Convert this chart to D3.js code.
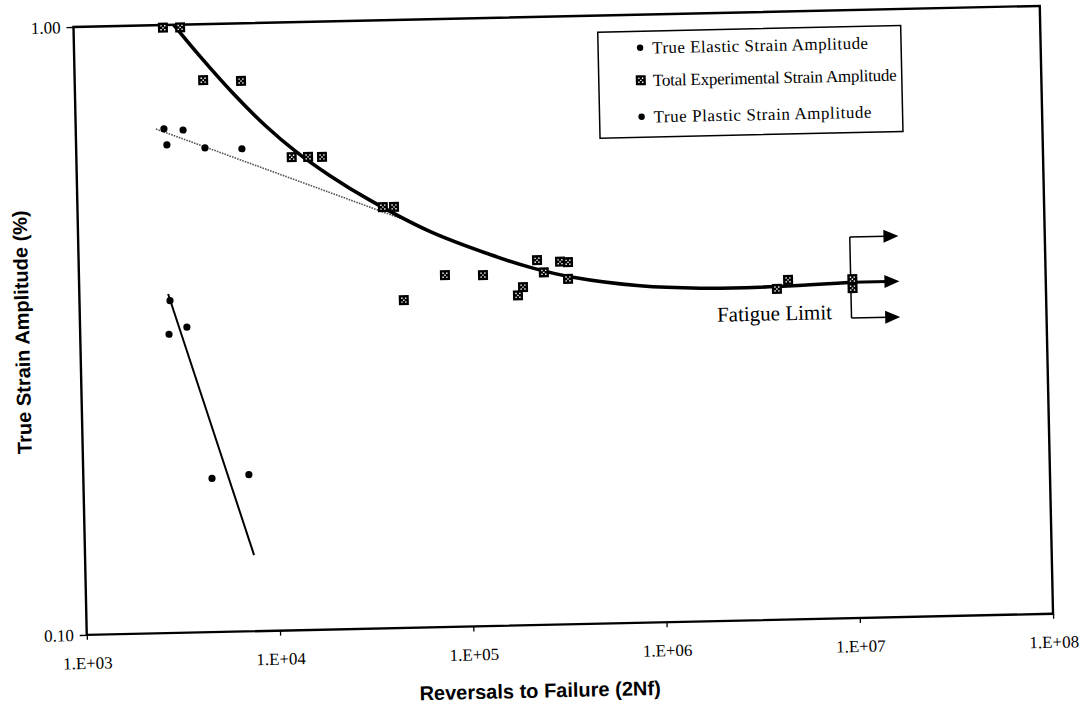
<!DOCTYPE html>
<html>
<head>
<meta charset="utf-8">
<script src="https://cdn.jsdelivr.net/npm/d3@7"></script>
<style>
  body { margin: 0; background: #fff; }
  svg { display: block; }
</style>
</head>
<body>
<svg id="chart" width="1085" height="707"></svg>
<script>
// Axis ticks
const xTickValues = [1e3, 1e4, 1e5, 1e6, 1e7, 1e8];
const xTickLabels = ["1.E+03", "1.E+04", "1.E+05", "1.E+06", "1.E+07", "1.E+08"];
const yTickValues = [1, 0.1];
const yTickLabels = ["1.00", "0.10"];

// Total experimental strain amplitude (reversals, %)
const totalN = [2900, 3560, 4620, 7250, 13000, 15800, 18650, 38000, 43400, 47600,
                78200, 123000, 235000, 254000, 197500, 185600, 309000, 339600, 338300,
                4060000, 4650000, 10000000, 10000000];
const totalStrain = [0.99, 0.99, 0.809, 0.804, 0.600, 0.600, 0.599, 0.493, 0.493, 0.346,
                     0.379, 0.378, 0.398, 0.380, 0.360, 0.349, 0.395, 0.394, 0.370,
                     0.350, 0.362, 0.361, 0.349];

// True elastic strain amplitude
const elasticN = [2860, 3590, 2950, 4640, 7200];
const elasticStrain = [0.675, 0.671, 0.635, 0.626, 0.622];

// True plastic strain amplitude
const plasticN = [2940, 3570, 2880, 4630, 7190];
const plasticStrain = [0.352, 0.318, 0.310, 0.179, 0.181];

// Fitted lines (end points of straight log-log fits)
const elasticFitN = [2600, 46500];
const elasticFitStrain = [0.675, 0.472];
const plasticFitN = [2880, 7490];
const plasticFitStrain = [0.361, 0.1334];

// Total strain-life curve
const totalCurveN = [3300, 4480, 6570, 9750, 13550, 20400, 32600, 66000, 134500,
                     223400, 359000, 796000, 1630000, 3320000, 10000000];
const totalCurveStrain = [1.0, 0.8855, 0.768, 0.674, 0.6144, 0.5577, 0.5066, 0.4478, 0.4082,
                          0.3864, 0.372, 0.3582, 0.3532, 0.3528, 0.3568];

// Fatigue limit marker
const fatigueLimitN = 9.8e6;
const fatigueArrowTipN = 1.75e7;
const fatigueArrowStrain = [0.4235, 0.3568, 0.3116];

const legendLabels = ["True Elastic Strain Amplitude",
                      "Total Experimental Strain Amplitude",
                      "True Plastic Strain Amplitude"];
const legendTextLength = [216, 244, 218];

const serif = "'Times New Roman', 'Liberation Serif', serif";
const sans = "Arial, 'Liberation Sans', sans-serif";

const plot = { left: 80, top: 16.4, width: 966.5, height: 608 };
const svg = d3.select("#chart");
// the whole figure sits at a slight tilt
const g = svg.append("g").attr("transform", "rotate(-1.25, 563, 320)");

const x = d3.scaleLog().domain([1e3, 1e8]).range([plot.left, plot.left + plot.width]);
const y = d3.scaleLog().domain([0.1, 1]).range([plot.top + plot.height, plot.top]);

// Axes
const xAxis = g.append("g")
  .attr("transform", `translate(0,${plot.top + plot.height})`)
  .call(d3.axisBottom(x).tickValues(xTickValues)
        .tickFormat((d, i) => xTickLabels[i]).tickSize(5).tickPadding(17));
const yAxis = g.append("g")
  .attr("transform", `translate(${plot.left},0)`)
  .call(d3.axisLeft(y).tickValues(yTickValues)
        .tickFormat((d, i) => yTickLabels[i]).tickSize(7).tickPadding(6));
[xAxis, yAxis].forEach(a => {
  a.select(".domain").remove();
  a.selectAll("line").attr("stroke", "#000").attr("stroke-width", 1.3);
  a.selectAll("text").attr("fill", "#000").style("font-family", serif).style("font-size", "17px");
});

// Plot frame
g.append("rect")
  .attr("x", plot.left).attr("y", plot.top)
  .attr("width", plot.width).attr("height", plot.height)
  .attr("fill", "none").attr("stroke", "#000").attr("stroke-width", 2.4);

// Axis titles
g.append("text")
  .attr("x", 532).attr("y", 697)
  .attr("text-anchor", "middle")
  .style("font-family", sans).style("font-weight", "bold").style("font-size", "20px")
  .text("Reversals to Failure (2Nf)");
g.append("text")
  .attr("transform", `translate(29,${plot.top + plot.height / 2}) rotate(-90)`)
  .attr("text-anchor", "middle")
  .style("font-family", sans).style("font-weight", "bold").style("font-size", "20px")
  .text("True Strain Amplitude (%)");

// Fit lines
const line = d3.line().x(d => x(d[0])).y(d => y(d[1]));
g.append("path")
  .datum(elasticFitN.map((n, i) => [n, elasticFitStrain[i]]))
  .attr("d", line).attr("fill", "none")
  .attr("stroke", "#555").attr("stroke-width", 1.6).attr("stroke-dasharray", "1.6,1.1");
g.append("path")
  .datum(plasticFitN.map((n, i) => [n, plasticFitStrain[i]]))
  .attr("d", line).attr("fill", "none")
  .attr("stroke", "#000").attr("stroke-width", 2);

const curve = d3.line().x(d => x(d[0])).y(d => y(d[1])).curve(d3.curveCatmullRom.alpha(0.5));
g.append("path")
  .datum(totalCurveN.map((n, i) => [n, totalCurveStrain[i]]))
  .attr("d", curve).attr("fill", "none")
  .attr("stroke", "#000").attr("stroke-width", 3.6).attr("stroke-linejoin", "round");

// Fatigue limit arrows
const fx = x(fatigueLimitN), tipX = x(fatigueArrowTipN);
g.append("line")
  .attr("x1", fx).attr("x2", fx)
  .attr("y1", y(fatigueArrowStrain[0])).attr("y2", y(fatigueArrowStrain[2]))
  .attr("stroke", "#000").attr("stroke-width", 1.5);
fatigueArrowStrain.forEach((s, i) => {
  const yy = y(s);
  g.append("line")
    .attr("x1", i === 1 ? x(1e7) : fx).attr("x2", tipX - 12)
    .attr("y1", yy).attr("y2", yy)
    .attr("stroke", "#000").attr("stroke-width", i === 1 ? 3 : 1.5);
  g.append("path")
    .attr("d", `M${tipX},${yy} L${tipX - 15},${yy - 6.5} L${tipX - 15},${yy + 6.5} Z`)
    .attr("fill", "#000");
});
g.append("text")
  .attr("x", 832).attr("y", 325)
  .attr("text-anchor", "end")
  .style("font-family", serif).style("font-size", "21px")
  .text("Fatigue Limit");

// Markers
function drawSquare(sel) {
  sel.append("rect").attr("x", -5).attr("y", -5).attr("width", 10).attr("height", 10).attr("fill", "#000");
  [[-2.6, -2.6], [1.2, -2.6], [-0.7, -0.6], [-2.6, 1.3], [1.2, 1.3]].forEach(p =>
    sel.append("rect").attr("x", p[0]).attr("y", p[1]).attr("width", 1.4).attr("height", 1.4).attr("fill", "#fff"));
}

g.append("g").selectAll("circle")
  .data(elasticN.map((n, i) => [n, elasticStrain[i]]))
  .join("circle")
  .attr("cx", d => x(d[0])).attr("cy", d => y(d[1])).attr("r", 3.6).attr("fill", "#000");
g.append("g").selectAll("circle")
  .data(plasticN.map((n, i) => [n, plasticStrain[i]]))
  .join("circle")
  .attr("cx", d => x(d[0])).attr("cy", d => y(d[1])).attr("r", 3.6).attr("fill", "#000");
g.append("g").selectAll("g")
  .data(totalN.map((n, i) => [n, totalStrain[i]]))
  .join("g")
  .attr("transform", d => `translate(${x(d[0])},${y(d[1])})`)
  .each(function () { drawSquare(d3.select(this)); });

// Legend
const legend = g.append("g").attr("transform", "translate(604,33)");
legend.append("rect")
  .attr("width", 303).attr("height", 106)
  .attr("fill", "#fff").attr("stroke", "#000").attr("stroke-width", 1.5);
const entryY = [16.5, 49, 85.5];
legendLabels.forEach((label, i) => {
  const row = legend.append("g").attr("transform", `translate(42,${entryY[i]})`);
  if (i === 1) drawSquare(row);
  else row.append("circle").attr("r", 3.2).attr("fill", "#000");
  row.append("text")
    .attr("x", 12).attr("dy", "0.35em")
    .attr("textLength", legendTextLength[i]).attr("lengthAdjust", "spacing")
    .style("font-family", serif).style("font-size", "17px")
    .text(label);
});
</script>
</body>
</html>
